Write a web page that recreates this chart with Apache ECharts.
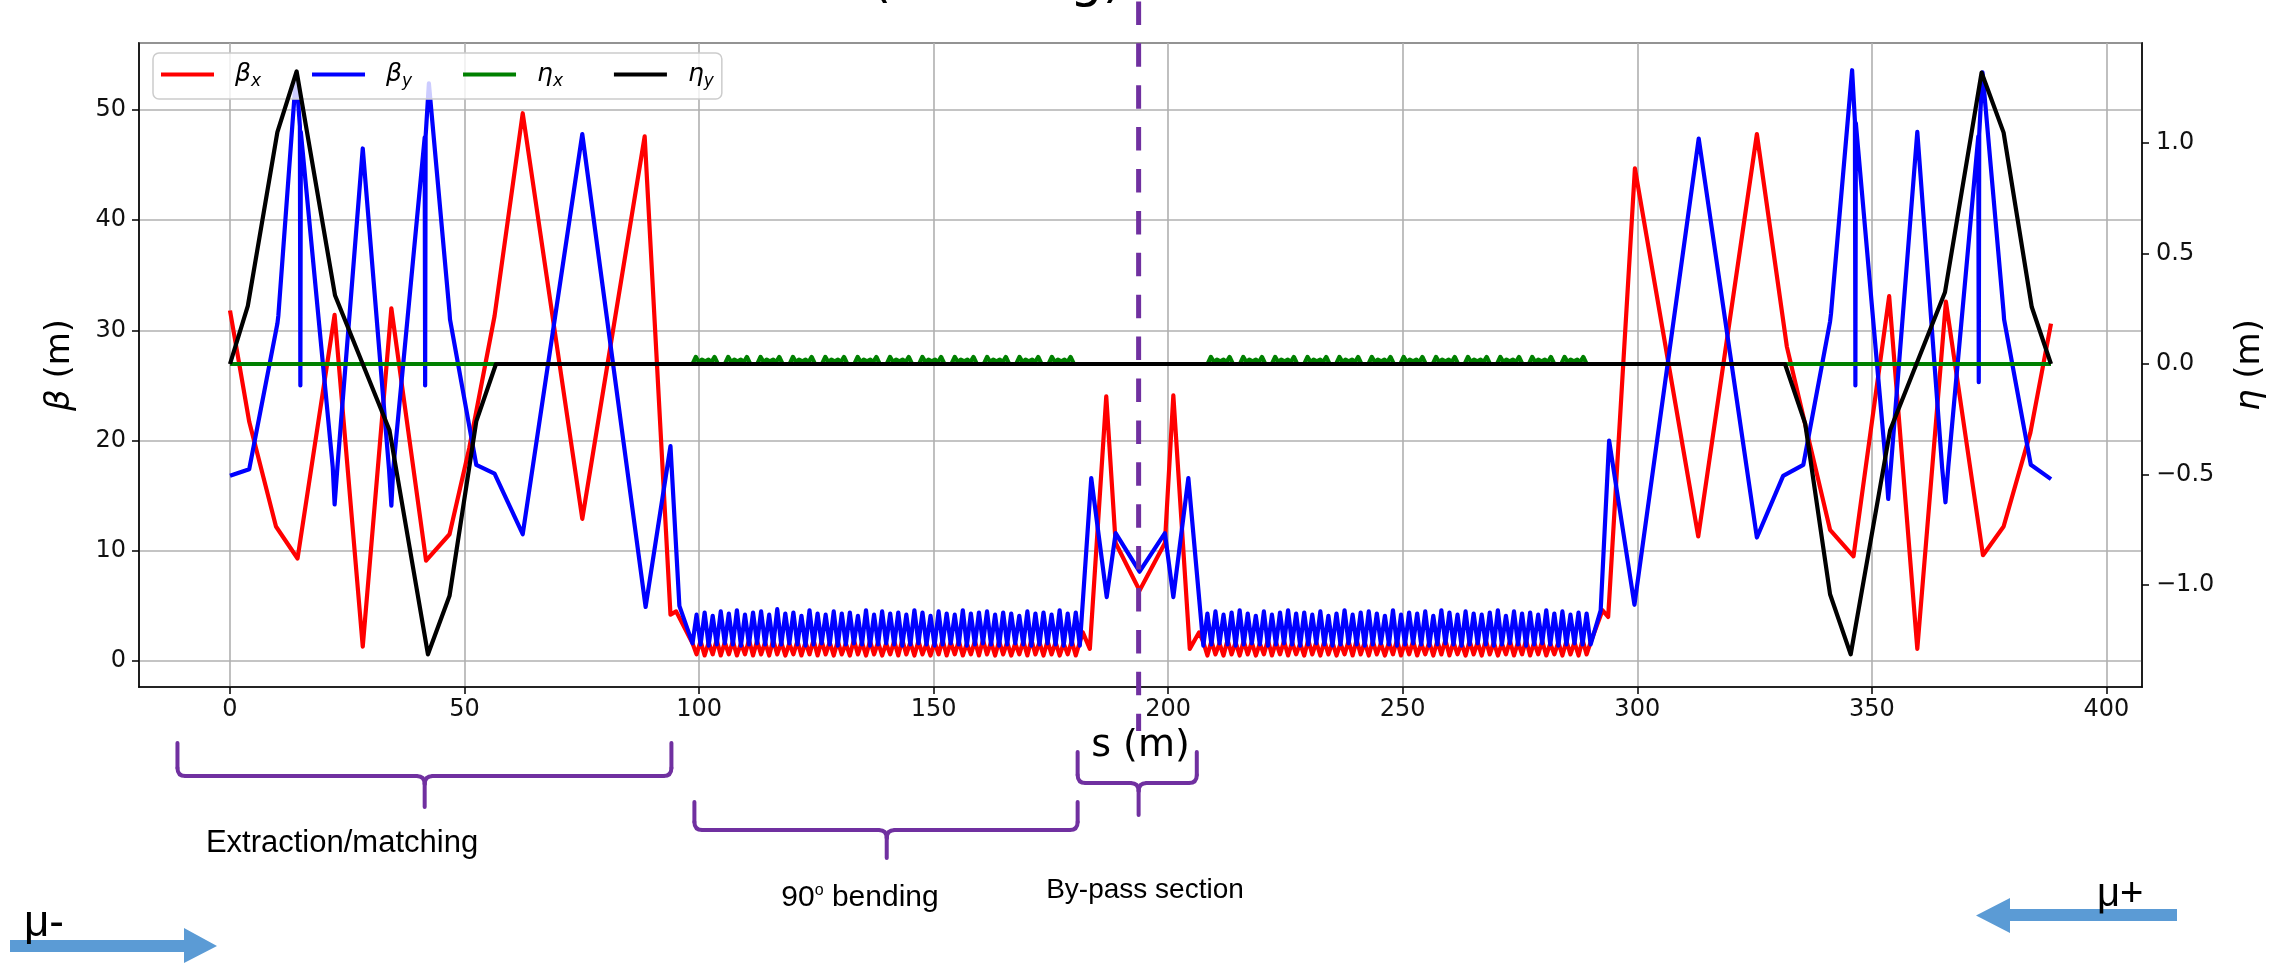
<!DOCTYPE html>
<html>
<head>
<meta charset="utf-8">
<script src="https://cdn.jsdelivr.net/npm/echarts@6/dist/echarts.min.js"></script>
<style>
html,body{margin:0;padding:0;background:#ffffff;}
#c{width:2288px;height:964px;}
</style>
</head>
<body>
<div id="c"></div>
<script>
// ---------------- DATA ----------------
const seriesNames = ['βx', 'βy', 'ηx', 'ηy'];

// beta_x, extraction / matching part (s [m], beta [m])
const betaXMatchLeft = [[0,31.8],[4.1,21.7],[9.8,12.2],[14.4,9.3],[22.3,31.4],[28.3,1.3],[34.4,32.0],[41.8,9.1],[46.8,11.5],[51.0,19.3],[56.4,31.3],[62.4,49.7],[75.1,12.9],[88.4,47.6],[93.9,4.2],[95.1,4.5]];
const betaYMatchLeft = [[0,16.8],[4.1,17.4],[10.1,30.6],[10.3,31.3],[14.1,53.3],[14.9,48.5],[15.0,25.0],[15.1,48.0],[21.9,17.6],[22.3,14.2],[22.9,17.6],[28.3,46.5],[33.9,17.4],[34.4,14.1],[34.8,17.4],[41.5,47.5],[41.6,25.0],[41.7,47.6],[42.4,52.4],[46.8,31.6],[46.9,31.0],[52.5,17.8],[56.4,17.0],[62.4,11.5],[75.1,47.8],[88.6,4.9],[93.9,19.5],[95.8,5.0]];

// 90 degree bending section 1
const sBend1 = [98.60,99.46,100.32,101.18,102.04,102.90,103.76,104.62,105.48,106.34,107.20,108.06,108.92,109.78,110.64,111.50,112.36,113.22,114.08,114.94,115.80,116.66,117.52,118.38,119.24,120.10,120.96,121.82,122.68,123.54,124.40,125.26,126.12,126.98,127.84,128.70,129.56,130.42,131.28,132.14,133.00,133.86,134.72,135.58,136.44,137.30,138.16,139.02,139.88,140.74,141.60,142.46,143.32,144.18,145.04,145.90,146.76,147.62,148.48,149.34,150.20,151.06,151.92,152.78,153.64,154.50,155.36,156.22,157.08,157.94,158.80,159.66,160.52,161.38,162.24,163.10,163.96,164.82,165.68,166.54,167.40,168.26,169.12,169.98,170.84,171.70,172.56,173.42,174.28,175.14,176.00,176.86,177.72,178.58,179.44,180.30,181.16];
const betaXBend1 = [
1.6,0.6,1.8,0.5,1.7,0.6,1.9,0.5,
1.7,0.6,1.8,0.5,1.6,0.6,1.9,0.5,
1.8,0.6,1.7,0.5,1.9,0.6,1.7,0.5,
1.6,0.6,1.8,0.5,1.7,0.6,1.9,0.5,
1.8,0.6,1.7,0.5,1.8,0.6,1.6,0.5,
1.9,0.6,1.7,0.5,1.8,0.6,1.7,0.5,
1.6,0.6,1.8,0.5,1.9,0.6,1.7,0.5,
1.8,0.6,1.6,0.5,1.7,0.6,1.9,0.5,
1.7,0.6,1.8,0.5,1.6,0.6,1.8,0.5,
1.9,0.6,1.7,0.5,1.8,0.6,1.7,0.5,
1.6,0.6,1.8,0.5,1.9,0.6,1.7,0.5,
1.8,0.6,1.7,0.5,1.6,0.6,1.8,0.5,
1.7];
const betaYBend1 = [
1.6,4.2,1.5,4.4,1.4,4.1,1.5,4.5,
1.6,4.3,1.5,4.6,1.4,4.2,1.5,4.4,
1.6,4.5,1.5,4.2,1.4,4.7,1.5,4.3,
1.6,4.4,1.5,4.1,1.4,4.6,1.5,4.3,
1.6,4.2,1.5,4.5,1.4,4.3,1.5,4.4,
1.6,4.1,1.5,4.6,1.4,4.2,1.5,4.5,
1.6,4.3,1.5,4.4,1.4,4.2,1.5,4.6,
1.6,4.4,1.5,4.1,1.4,4.5,1.5,4.3,
1.6,4.2,1.5,4.6,1.4,4.3,1.5,4.4,
1.6,4.5,1.5,4.2,1.4,4.4,1.5,4.3,
1.6,4.1,1.5,4.5,1.4,4.3,1.5,4.4,
1.6,4.2,1.5,4.6,1.4,4.3,1.5,4.4,
1.4];

// by-pass section
const betaXBypass = [[181.8,2.6],[183.3,1.1],[186.8,24.0],[188.8,10.7],[193.9,6.4],[199.3,10.7],[201.1,24.1],[204.6,1.1],[206.6,2.6]];
const betaYBypass = [[183.6,16.6],[186.9,5.8],[188.8,11.6],[193.9,8.1],[199.3,11.6],[201.1,5.8],[204.3,16.6]];

// 90 degree bending section 2
const sBend2 = [207.50,208.36,209.22,210.08,210.94,211.80,212.66,213.52,214.38,215.24,216.10,216.96,217.82,218.68,219.54,220.40,221.26,222.12,222.98,223.84,224.70,225.56,226.42,227.28,228.14,229.00,229.86,230.72,231.58,232.44,233.30,234.16,235.02,235.88,236.74,237.60,238.46,239.32,240.18,241.04,241.90,242.76,243.62,244.48,245.34,246.20,247.06,247.92,248.78,249.64,250.50,251.36,252.22,253.08,253.94,254.80,255.66,256.52,257.38,258.24,259.10,259.96,260.82,261.68,262.54,263.40,264.26,265.12,265.98,266.84,267.70,268.56,269.42,270.28,271.14,272.00,272.86,273.72,274.58,275.44,276.30,277.16,278.02,278.88,279.74,280.60,281.46,282.32,283.18,284.04,284.90,285.76,286.62,287.48,288.34,289.20,290.06];
const betaXBend2 = [
1.7,0.5,1.8,0.6,1.6,0.5,1.9,0.6,
1.7,0.5,1.8,0.6,1.7,0.5,1.6,0.6,
1.9,0.5,1.7,0.6,1.8,0.5,1.7,0.6,
1.6,0.5,1.9,0.6,1.7,0.5,1.8,0.6,
1.7,0.5,1.6,0.6,1.8,0.5,1.9,0.6,
1.7,0.5,1.8,0.6,1.6,0.5,1.7,0.6,
1.9,0.5,1.7,0.6,1.8,0.5,1.6,0.6,
1.7,0.5,1.8,0.6,1.9,0.5,1.7,0.6,
1.6,0.5,1.8,0.6,1.7,0.5,1.9,0.6,
1.7,0.5,1.6,0.6,1.8,0.5,1.7,0.6,
1.9,0.5,1.7,0.6,1.8,0.5,1.6,0.6,
1.7,0.5,1.8,0.6,1.7,0.5,1.9,0.6,
1.7];
const betaYBend2 = [
1.4,4.3,1.5,4.5,1.6,4.2,1.5,4.4,
1.4,4.6,1.5,4.3,1.6,4.1,1.5,4.5,
1.4,4.2,1.5,4.4,1.6,4.6,1.5,4.3,
1.4,4.4,1.5,4.2,1.6,4.5,1.5,4.1,
1.4,4.3,1.5,4.6,1.6,4.2,1.5,4.4,
1.4,4.5,1.5,4.3,1.6,4.1,1.5,4.6,
1.4,4.2,1.5,4.4,1.6,4.3,1.5,4.5,
1.4,4.1,1.5,4.6,1.6,4.4,1.5,4.2,
1.4,4.5,1.5,4.3,1.6,4.2,1.5,4.4,
1.4,4.6,1.5,4.1,1.6,4.5,1.5,4.3,
1.4,4.4,1.5,4.2,1.6,4.6,1.5,4.3,
1.4,4.5,1.5,4.2,1.6,4.4,1.5,4.3,
1.5];

// matching part after the second bend
const betaXMatchRight = [[292.6,4.6],[293.8,4.0],[299.5,44.7],[313.0,11.3],[325.5,47.8],[331.9,28.5],[341.1,11.9],[346.1,9.5],[353.7,33.1],[359.7,1.1],[365.8,32.6],[373.7,9.6],[378.1,12.2],[383.8,20.7],[388.2,30.6]];
const betaYMatchRight = [[292.2,4.6],[294.0,20.0],[299.4,5.1],[313.1,47.4],[325.5,11.2],[331.1,16.8],[335.4,17.8],[341.1,30.8],[341.3,31.5],[345.8,53.6],[346.4,49.0],[346.5,25.0],[346.6,48.8],[353.0,17.8],[353.5,14.7],[354.1,17.8],[359.7,48.0],[365.0,17.5],[365.7,14.4],[366.3,17.6],[372.7,47.6],[372.8,25.3],[372.9,47.8],[373.6,53.4],[378.1,31.6],[378.2,31.0],[383.9,17.8],[388.2,16.5]];

// horizontal dispersion eta_x (right axis)
const etaXBend1 = [
[98.6,0],[99.3,0.032],[100.0,0.008],[100.6,0.02],[101.3,0.012],[102.0,0.02],[102.6,0.008],[103.3,0.032],[104.0,0],
[105.5,0],[106.2,0.032],[106.9,0.008],[107.5,0.02],[108.2,0.012],[108.9,0.02],[109.5,0.008],[110.2,0.032],[110.9,0],
[112.4,0],[113.1,0.032],[113.8,0.008],[114.4,0.02],[115.1,0.012],[115.8,0.02],[116.4,0.008],[117.1,0.032],[117.8,0],
[119.3,0],[120.0,0.032],[120.7,0.008],[121.3,0.02],[122.0,0.012],[122.7,0.02],[123.3,0.008],[124.0,0.032],[124.7,0],
[126.2,0],[126.9,0.032],[127.6,0.008],[128.2,0.02],[128.9,0.012],[129.6,0.02],[130.2,0.008],[130.9,0.032],[131.6,0],
[133.1,0],[133.8,0.032],[134.5,0.008],[135.1,0.02],[135.8,0.012],[136.5,0.02],[137.1,0.008],[137.8,0.032],[138.5,0],
[140.0,0],[140.7,0.032],[141.4,0.008],[142.0,0.02],[142.7,0.012],[143.4,0.02],[144.0,0.008],[144.7,0.032],[145.4,0],
[146.9,0],[147.6,0.032],[148.3,0.008],[148.9,0.02],[149.6,0.012],[150.3,0.02],[150.9,0.008],[151.6,0.032],[152.3,0],
[153.8,0],[154.5,0.032],[155.2,0.008],[155.8,0.02],[156.5,0.012],[157.2,0.02],[157.8,0.008],[158.5,0.032],[159.2,0],
[160.7,0],[161.4,0.032],[162.1,0.008],[162.7,0.02],[163.4,0.012],[164.1,0.02],[164.7,0.008],[165.4,0.032],[166.1,0],
[167.6,0],[168.3,0.032],[169.0,0.008],[169.6,0.02],[170.3,0.012],[171.0,0.02],[171.6,0.008],[172.3,0.032],[173.0,0],
[174.5,0],[175.2,0.032],[175.9,0.008],[176.5,0.02],[177.2,0.012],[177.9,0.02],[178.5,0.008],[179.2,0.032],[179.9,0]];
const etaXBend2 = [
[208.4,0],[209.1,0.032],[209.8,0.008],[210.4,0.02],[211.1,0.012],[211.8,0.02],[212.4,0.008],[213.1,0.032],[213.8,0],
[215.3,0],[216.0,0.032],[216.7,0.008],[217.3,0.02],[218.0,0.012],[218.7,0.02],[219.3,0.008],[220.0,0.032],[220.7,0],
[222.1,0],[222.8,0.032],[223.5,0.008],[224.1,0.02],[224.8,0.012],[225.5,0.02],[226.1,0.008],[226.8,0.032],[227.5,0],
[229.0,0],[229.7,0.032],[230.4,0.008],[231.0,0.02],[231.7,0.012],[232.4,0.02],[233.0,0.008],[233.7,0.032],[234.4,0],
[235.8,0],[236.5,0.032],[237.2,0.008],[237.8,0.02],[238.5,0.012],[239.2,0.02],[239.8,0.008],[240.5,0.032],[241.2,0],
[242.7,0],[243.4,0.032],[244.1,0.008],[244.7,0.02],[245.4,0.012],[246.1,0.02],[246.7,0.008],[247.4,0.032],[248.1,0],
[249.5,0],[250.2,0.032],[250.9,0.008],[251.5,0.02],[252.2,0.012],[252.9,0.02],[253.5,0.008],[254.2,0.032],[254.9,0],
[256.4,0],[257.1,0.032],[257.8,0.008],[258.4,0.02],[259.1,0.012],[259.8,0.02],[260.4,0.008],[261.1,0.032],[261.8,0],
[263.2,0],[263.9,0.032],[264.6,0.008],[265.2,0.02],[265.9,0.012],[266.6,0.02],[267.2,0.008],[267.9,0.032],[268.6,0],
[270.1,0],[270.8,0.032],[271.5,0.008],[272.1,0.02],[272.8,0.012],[273.5,0.02],[274.1,0.008],[274.8,0.032],[275.5,0],
[276.9,0],[277.6,0.032],[278.3,0.008],[278.9,0.02],[279.6,0.012],[280.3,0.02],[280.9,0.008],[281.6,0.032],[282.3,0],
[283.8,0],[284.5,0.032],[285.2,0.008],[285.8,0.02],[286.5,0.012],[287.2,0.02],[287.8,0.008],[288.5,0.032],[289.2,0]];
const etaXEnds = [[0,0],[388.2,0]];

// vertical dispersion eta_y (right axis)
const etaY = [[0,0],[3.8,0.263],[10.1,1.05],[14.2,1.325],[22.4,0.31],[34.0,-0.30],[42.2,-1.315],[46.8,-1.05],[52.5,-0.26],[56.7,0],[331.5,0],[335.8,-0.27],[341.1,-1.043],[345.5,-1.315],[353.9,-0.30],[365.6,0.325],[373.4,1.32],[378.1,1.048],[384.1,0.258],[388.2,0]];

// annotation texts
const sectionLabels = ['Extraction/matching', '90{sup|o} bending', 'By-pass section'];
const beamLabels = ['μ-', 'μ+'];
const titleFragment = '(bending)';
const bypassCentre = 193.7;   // s of the dashed symmetry line

// ---------------- BUILD ----------------
function zip(s, v){ const n = Math.min(s.length, v.length); const out = []; for (let i = 0; i < n; i++) out.push([s[i], v[i]]); return out; }
const betaX = [].concat(betaXMatchLeft, zip(sBend1, betaXBend1), betaXBypass, zip(sBend2, betaXBend2), betaXMatchRight);
const betaY = [].concat(betaYMatchLeft, zip(sBend1, betaYBend1), betaYBypass, zip(sBend2, betaYBend2), betaYMatchRight);
const etaX = [].concat([etaXEnds[0]], etaXBend1, etaXBend2, [etaXEnds[1]]);

const FONT = 'DejaVu Sans';
const minus = v => (v < 0 ? '\u2212' : '');
const chart = echarts.init(document.getElementById('c'), null, {renderer: 'canvas', width: 2288, height: 964});

const lineSeries = (name, data, color, axis, z) => ({
  name, type: 'line', data, yAxisIndex: axis, symbol: 'none', showSymbol: false,
  lineStyle: {color, width: 4.2, join: 'round', cap: 'butt'}, itemStyle: {color},
  z, animation: false, silent: true, clip: true
});

const tickStyle = {show: true, length: 7, lineStyle: {color: '#000', width: 1.5}};
const gridLine = {show: true, lineStyle: {color: '#b0b0b0', width: 1.6}};
const frameLine = {show: true, onZero: false, lineStyle: {color: '#000', width: 1.6}};

chart.setOption({
  animation: false,
  backgroundColor: '#ffffff',
  grid: {left: 139, right: 146, top: 43, bottom: 277, show: true, borderColor: '#000', borderWidth: 1.6, backgroundColor: 'transparent'},
  legend: {
    left: 153, top: 53, orient: 'horizontal', selectedMode: false,
    icon: 'rect', itemWidth: 53, itemHeight: 4, itemGap: 51, padding: [9, 8, 9, 8],
    itemStyle: {borderWidth: 0},
    backgroundColor: 'rgba(255,255,255,0.8)', borderColor: '#cccccc', borderWidth: 1.5, borderRadius: 6, z: 4,
    data: seriesNames,
    formatter: n => '{g|' + n[0] + '}{s|' + n.slice(1) + '}',
    textStyle: {color: '#000', rich: {
      g: {fontFamily: FONT, fontStyle: 'italic', fontSize: 25, padding: [0, 0, 0, 16], color: '#000'},
      s: {fontFamily: FONT, fontStyle: 'italic', fontSize: 17, width: 20, padding: [14, 0, 0, 0], color: '#000'}
    }}
  },
  xAxis: {
    type: 'value', min: -19.4, max: 407.6, minInterval: 50, maxInterval: 50,
    name: 's (m)', nameLocation: 'middle', nameGap: 33,
    nameTextStyle: {fontFamily: FONT, fontSize: 38, color: '#000'},
    axisLine: frameLine, axisTick: tickStyle, splitLine: gridLine,
    axisLabel: {fontFamily: FONT, fontSize: 24, color: '#111', margin: 11, showMinLabel: false, showMaxLabel: false,
      formatter: v => minus(v) + Math.abs(v)}
  },
  yAxis: [{
    type: 'value', position: 'left', min: -2.36, max: 56.07, minInterval: 10, maxInterval: 10,
    name: '{i|β} (m)', nameLocation: 'middle', nameGap: 62,
    nameTextStyle: {fontFamily: FONT, fontSize: 34, color: '#000', rich: {i: {fontFamily: FONT, fontStyle: 'italic', fontSize: 34, color: '#000'}}},
    axisLine: frameLine, axisTick: tickStyle, splitLine: gridLine,
    axisLabel: {fontFamily: FONT, fontSize: 24, color: '#111', margin: 13, showMinLabel: false, showMaxLabel: false,
      formatter: v => minus(v) + Math.abs(v)}
  }, {
    type: 'value', position: 'right', min: -1.463, max: 1.454, minInterval: 0.5, maxInterval: 0.5,
    name: '{i|η} (m)', nameLocation: 'middle', nameGap: 91,
    nameTextStyle: {fontFamily: FONT, fontSize: 34, color: '#000', rich: {i: {fontFamily: FONT, fontStyle: 'italic', fontSize: 34, color: '#000'}}},
    axisLine: frameLine, axisTick: tickStyle, splitLine: {show: false},
    axisLabel: {fontFamily: FONT, fontSize: 24, color: '#111', margin: 14, showMinLabel: false, showMaxLabel: false,
      formatter: v => minus(v) + Math.abs(v).toFixed(1)}
  }],
  series: [
    lineSeries(seriesNames[0], betaX, '#ff0000', 0, 2),
    lineSeries(seriesNames[1], betaY, '#0000ff', 0, 2),
    lineSeries(seriesNames[2], etaX, '#008000', 1, 6),
    lineSeries(seriesNames[3], etaY, '#000000', 1, 7)
  ]
});

// ---------------- ANNOTATIONS ----------------
const X = s => chart.convertToPixel({xAxisIndex: 0}, s);
const PURPLE = '#7030A0', ARROW = '#5B9BD5';
const braces = [
  {from: -11.2, to: 94.1, tip: 41.5, top: 743, bar: 776, end: 807},
  {from: 99.0, to: 180.7, tip: 140.0, top: 802, bar: 830, end: 858},
  {from: 180.7, to: 206.1, tip: bypassCentre, top: 752, bar: 783, end: 815}
];
const g = [];
const st = {stroke: PURPLE, lineWidth: 4, fill: null, lineCap: 'round'};
braces.forEach(b => {
  const x1 = X(b.from), x2 = X(b.to), xc = X(b.tip), r = 8;
  g.push({type: 'line', shape: {x1: x1, y1: b.top, x2: x1, y2: b.bar - r}, style: st, z: 50, silent: true});
  g.push({type: 'bezierCurve', shape: {x1: x1, y1: b.bar - r, cpx1: x1, cpy1: b.bar, x2: x1 + r, y2: b.bar}, style: st, z: 50, silent: true});
  g.push({type: 'line', shape: {x1: x1 + r, y1: b.bar, x2: xc - r, y2: b.bar}, style: st, z: 50, silent: true});
  g.push({type: 'bezierCurve', shape: {x1: xc - r, y1: b.bar, cpx1: xc, cpy1: b.bar, x2: xc, y2: b.bar + r}, style: st, z: 50, silent: true});
  g.push({type: 'bezierCurve', shape: {x1: xc + r, y1: b.bar, cpx1: xc, cpy1: b.bar, x2: xc, y2: b.bar + r}, style: st, z: 50, silent: true});
  g.push({type: 'line', shape: {x1: xc, y1: b.bar + r, x2: xc, y2: b.end}, style: st, z: 50, silent: true});
  g.push({type: 'line', shape: {x1: xc + r, y1: b.bar, x2: x2 - r, y2: b.bar}, style: st, z: 50, silent: true});
  g.push({type: 'bezierCurve', shape: {x1: x2 - r, y1: b.bar, cpx1: x2, cpy1: b.bar, x2: x2, y2: b.bar - r}, style: st, z: 50, silent: true});
  g.push({type: 'line', shape: {x1: x2, y1: b.bar - r, x2: x2, y2: b.top}, style: st, z: 50, silent: true});
});
// dashed symmetry line at the centre of the by-pass
const xd = X(bypassCentre);
g.push({type: 'line', shape: {x1: xd, y1: -40.5, x2: xd, y2: 731}, style: {stroke: PURPLE, lineWidth: 5, lineDash: [23.5, 18.4]}, z: 60, silent: true});

const LBL = 'Liberation Sans';
const txt = (text, x, y, size, align, rich) => ({type: 'text', x, y, z: 55, silent: true,
  style: {text, fill: '#000', font: size + 'px "' + LBL + '"', textAlign: align, textVerticalAlign: 'middle', rich: rich || undefined}});
g.push(txt(sectionLabels[0], 342, 843, 31, 'center'));
g.push(txt(sectionLabels[1], 860, 898, 30, 'center', {sup: {fontSize: 16, fontFamily: LBL, padding: [0, 0, 14, 0]}}));
g.push(txt(sectionLabels[2], 1145, 890, 28, 'center'));
g.push(txt(beamLabels[0], 24, 924, 44, 'left'));
g.push(txt(beamLabels[1], 2097, 895, 40, 'left'));
// arrows
g.push({type: 'polygon', z: 50, silent: true, shape: {points: [[10,940],[184,940],[184,928],[217,946],[184,963],[184,952],[10,952]]}, style: {fill: ARROW}});
g.push({type: 'polygon', z: 50, silent: true, shape: {points: [[2177,909],[2010,909],[2010,898],[1976,915.5],[2010,933],[2010,921],[2177,921]]}, style: {fill: ARROW}});
// title fragment cut by the top edge
g.push({type: 'text', x: 997, y: -18, z: 55, silent: true, style: {text: titleFragment, fill: '#000', font: '52px "DejaVu Sans"', textAlign: 'center', textVerticalAlign: 'middle'}});

chart.setOption({graphic: {elements: g}});
</script>
</body>
</html>
